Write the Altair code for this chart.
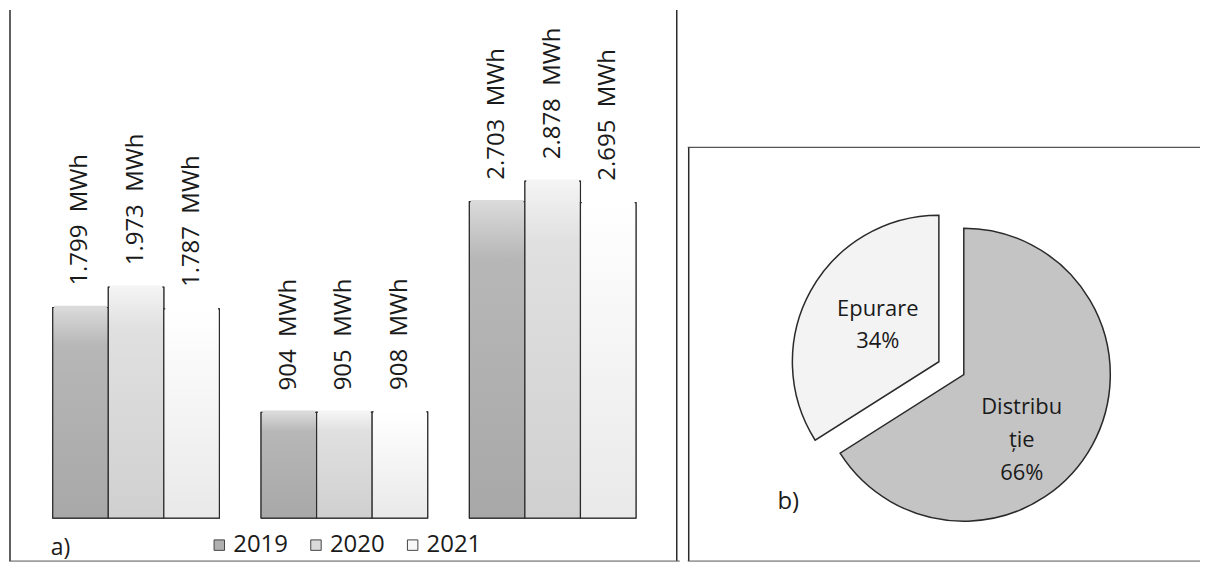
import altair as alt
import pandas as pd

# ---------------- data ----------------
categories = ["Distribuție", "Epurare", "Total"]
years = ["2019", "2020", "2021"]
values_2019 = [1799, 904, 2703]
values_2020 = [1973, 905, 2878]
values_2021 = [1787, 908, 2695]
year_colors = ["#b0b0b0", "#dadada", "#f7f7f7"]
# vertical shading of each series (top, middle, bottom)
year_shades = [
    ["#dadada", "#b7b7b7", "#a8a8a8"],
    ["#f4f4f4", "#e0e0e0", "#d0d0d0"],
    ["#ffffff", "#fbfbfb", "#e9e9e9"],
]

pie_parts = ["Distribuție", "Epurare"]
pie_shares = [66, 34]
pie_names = ["Distribu\nție", "Epurare"]
pie_colors = ["#c4c4c4", "#f3f3f3"]

FONT = "Open Sans"
INK = "#1a1a1a"
EDGE = "#2a2a2a"
NBSP = "\u00a0"

rows = []
for year, vals in zip(years, [values_2019, values_2020, values_2021]):
    for cat, v in zip(categories, vals):
        rows.append({
            "cat": cat, "year": year, "value": v,
            "label": f"{v:,}".replace(",", ".") + NBSP * 2 + "MWh",
        })
bar_df = pd.DataFrame(rows)

pie_df = pd.DataFrame({
    "part": pie_parts,
    "share": pie_shares,
    "idx": list(range(len(pie_parts))),
    "text": [f"{n}\n{s}%" for n, s in zip(pie_names, pie_shares)],
})

one = pd.DataFrame({"k": [0]})

# ---------------- panel a) bars ----------------
x = alt.X("cat:N", sort=categories, axis=None,
          scale=alt.Scale(paddingInner=0.2, paddingOuter=0.21))
xo = alt.XOffset("year:N", sort=years,
                 scale=alt.Scale(domain=years, paddingInner=0, paddingOuter=0))
y = alt.Y("value:Q", axis=None,
          scale=alt.Scale(domain=[0, 4340], nice=False, zero=True))

# flat layer: carries the legend
bars_flat = alt.Chart(bar_df).mark_bar(stroke=EDGE, strokeWidth=1).encode(
    x=x, xOffset=xo, y=y,
    fill=alt.Fill(
        "year:N", sort=years,
        scale=alt.Scale(domain=years, range=year_colors),
        legend=alt.Legend(
            title=None, orient="none", legendX=199, legendY=525,
            direction="horizontal", symbolType="square", symbolSize=110,
            symbolStrokeColor="#444", symbolStrokeWidth=1,
            labelFont=FONT, labelFontSize=24, labelColor=INK,
            columnPadding=16, labelOffset=2,
        ),
    ),
)

shaded = []
for yr, (top, mid, bot) in zip(years, year_shades):
    grad = alt.Gradient(
        gradient="linear",
        stops=[alt.GradientStop(color=top, offset=0),
               alt.GradientStop(color=mid, offset=0.18),
               alt.GradientStop(color=bot, offset=1)],
        x1=0, x2=0, y1=0, y2=1,
    )
    layer_bar = alt.Chart(bar_df).transform_filter(alt.datum.year == yr).mark_bar(
        fill=grad, stroke=EDGE, strokeWidth=1.2
    ).encode(x=x, xOffset=xo, y=y)
    # hide the top outline (the original bars only have side/bottom edges)
    layer_top = alt.Chart(bar_df).transform_filter(alt.datum.year == yr).mark_tick(
        orient="horizontal", thickness=3.5, size=53, color=top, opacity=1
    ).encode(x=x, xOffset=xo, y=y)
    shaded += [layer_bar, layer_top]

bar_labels = alt.Chart(bar_df).mark_text(
    angle=270, align="left", baseline="middle", dx=22,
    font=FONT, fontSize=24, color=INK,
).encode(x=x, xOffset=xo, y=y, text="label:N")

tag_a = alt.Chart(pd.DataFrame({"t": ["a)"]})).mark_text(
    align="left", baseline="middle", font=FONT, fontSize=23, color=INK
).encode(x=alt.value(42), y=alt.value(540), text="t:N")

rule_style = dict(color=EDGE, strokeWidth=1.5)
left_b = alt.Chart(one).mark_rule(**rule_style).encode(
    x=alt.value(1), y=alt.value(0), y2=alt.value(553))
right_b = alt.Chart(one).mark_rule(**rule_style).encode(
    x=alt.value(670), y=alt.value(0), y2=alt.value(553))
bottom_b = alt.Chart(one).mark_rule(color="#555", strokeWidth=1).encode(
    x=alt.value(0), x2=alt.value(673), y=alt.value(553))

panel_a = alt.layer(bars_flat, *shaded, bar_labels, tag_a, left_b, right_b, bottom_b).properties(
    width=673, height=510)

# ---------------- panel b) pie ----------------
base = alt.Chart(pie_df).encode(
    theta=alt.Theta("share:Q", stack=True),
    order=alt.Order("idx:Q"),
)
is_dist = alt.datum.part == "Distribuție"
pie_fill = alt.condition(is_dist, alt.value(pie_colors[0]), alt.value(pie_colors[1]))

arc_dist = base.mark_arc(outerRadius=147, stroke=EDGE, strokeWidth=1.5).encode(
    x=alt.value(277), y=alt.value(366), fill=pie_fill,
    opacity=alt.condition(is_dist, alt.value(1), alt.value(0)))
arc_ep = base.mark_arc(outerRadius=147, stroke=EDGE, strokeWidth=1.5).encode(
    x=alt.value(252), y=alt.value(353), fill=pie_fill,
    opacity=alt.condition(is_dist, alt.value(0), alt.value(1)))

txt_dist = base.mark_text(
    radius=80, dx=-12, dy=-6, lineBreak="\n", lineHeight=33,
    font=FONT, fontSize=22, color=INK, align="center", baseline="middle",
).encode(x=alt.value(277), y=alt.value(366), text="text:N",
         opacity=alt.condition(is_dist, alt.value(1), alt.value(0)))
txt_ep = base.mark_text(
    radius=70, dy=-19, lineBreak="\n", lineHeight=32,
    font=FONT, fontSize=22, color=INK, align="center", baseline="middle",
).encode(x=alt.value(252), y=alt.value(353), text="text:N",
         opacity=alt.condition(is_dist, alt.value(0), alt.value(1)))

tag_b = alt.Chart(pd.DataFrame({"t": ["b)"]})).mark_text(
    align="left", baseline="middle", font=FONT, fontSize=24, color=INK
).encode(x=alt.value(90), y=alt.value(494), text="t:N")

top_r = alt.Chart(one).mark_rule(color="#555", strokeWidth=1.2).encode(
    x=alt.value(0), x2=alt.value(514), y=alt.value(138))
left_r = alt.Chart(one).mark_rule(**rule_style).encode(
    x=alt.value(1), y=alt.value(138), y2=alt.value(553))
bottom_r = alt.Chart(one).mark_rule(color="#555", strokeWidth=1).encode(
    x=alt.value(0), x2=alt.value(514), y=alt.value(553))

panel_b = alt.layer(arc_dist, arc_ep, txt_dist, txt_ep, tag_b, top_r, left_r, bottom_r).properties(
    width=514, height=553)

chart = alt.hconcat(panel_a, panel_b, spacing=6).properties(
    padding=0, background="white"
).configure_view(stroke=None)

chart.save("out.html", embed_options={"renderer": "svg", "actions": False})
